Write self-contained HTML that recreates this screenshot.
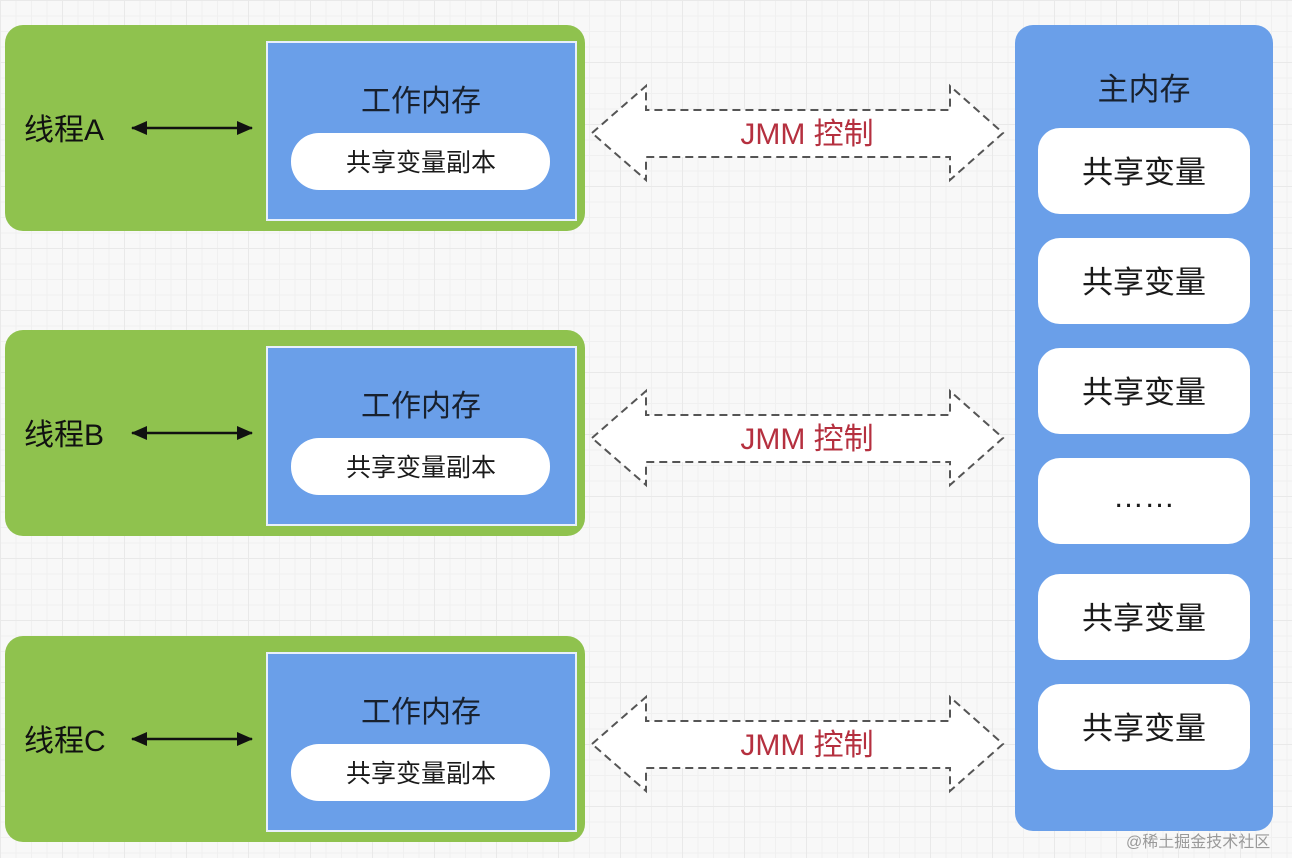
<!DOCTYPE html>
<html><head><meta charset="utf-8"><style>
html,body{margin:0;padding:0}
body{width:1292px;height:858px;overflow:hidden;background:#f8f8f8;
background-image:linear-gradient(#e9e9e9 1px,transparent 1px),linear-gradient(90deg,#e9e9e9 1px,transparent 1px),linear-gradient(#f0f0f0 1px,transparent 1px),linear-gradient(90deg,#f0f0f0 1px,transparent 1px);
background-size:62px 62px,62px 62px,15.5px 15.5px,15.5px 15.5px;}
svg{position:absolute;left:0;top:0}
text{font-family:"Liberation Sans","Noto Sans CJK SC",sans-serif}
</style></head><body>
<svg width="1292" height="858" viewBox="0 0 1292 858">
<defs>
<marker id="ah" markerWidth="16" markerHeight="14" refX="15" refY="7" orient="auto-start-reverse" markerUnits="userSpaceOnUse"><path d="M0,0 L16,7 L0,14 z" fill="#111"/></marker>
<g id="thread">
<rect x="5" y="25" width="580" height="206" rx="18" fill="#8fc24e"/>
<rect x="267" y="42" width="309" height="178" fill="#6a9fe9" stroke="#e8f0fb" stroke-width="2"/>
<text x="421" y="111" font-size="30" text-anchor="middle" fill="#18212e">工作内存</text>
<rect x="291" y="133" width="259" height="57" rx="28" fill="#fff"/>
<text x="421" y="171" font-size="25" text-anchor="middle" fill="#1a1a1a">共享变量副本</text>
<line x1="132" y1="128" x2="252" y2="128" stroke="#111" stroke-width="2.5" marker-start="url(#ah)" marker-end="url(#ah)"/>
<path d="M592,133 L646,86 L646,110 L950,110 L950,86 L1003,133 L950,180 L950,157 L646,157 L646,180 Z" fill="#fff" stroke="#555" stroke-width="2" stroke-dasharray="8,5"/>
<text x="807" y="144" font-size="30" text-anchor="middle" fill="#b5303f">JMM 控制</text>
</g>
</defs>
<use href="#thread"/>
<use href="#thread" y="305"/>
<use href="#thread" y="611"/>
<text x="24" y="140" font-size="30" fill="#111">线程A</text>
<text x="24" y="445" font-size="30" fill="#111">线程B</text>
<text x="24" y="751" font-size="30" fill="#111">线程C</text>
<rect x="1015" y="25" width="258" height="806" rx="18" fill="#6a9fe9"/>
<text x="1144" y="100" font-size="31" text-anchor="middle" fill="#18212e">主内存</text>
<g fill="#fff">
<rect x="1038" y="128" width="212" height="86" rx="22"/>
<rect x="1038" y="238" width="212" height="86" rx="22"/>
<rect x="1038" y="348" width="212" height="86" rx="22"/>
<rect x="1038" y="458" width="212" height="86" rx="22"/>
<rect x="1038" y="574" width="212" height="86" rx="22"/>
<rect x="1038" y="684" width="212" height="86" rx="22"/>
</g>
<g font-size="31" text-anchor="middle" fill="#1a1a1a">
<text x="1144" y="183">共享变量</text>
<text x="1144" y="293">共享变量</text>
<text x="1144" y="403">共享变量</text>
<text x="1144" y="507">……</text>
<text x="1144" y="629">共享变量</text>
<text x="1144" y="739">共享变量</text>
</g>
<text x="1126" y="847" font-size="16" fill="#999">@稀土掘金技术社区</text>
</svg>
</body></html>
